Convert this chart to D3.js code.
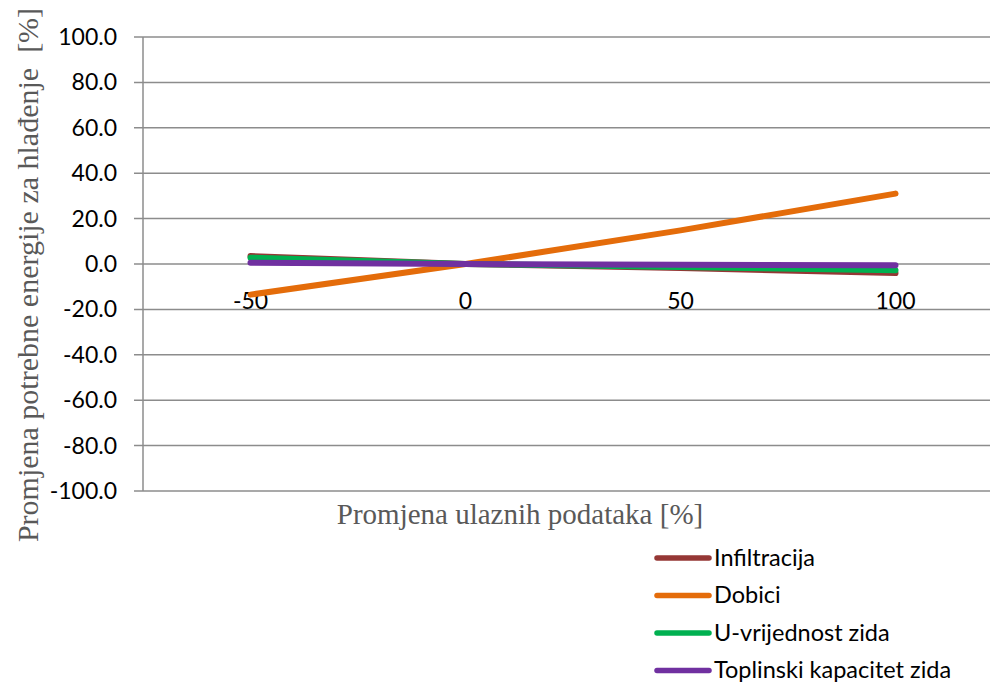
<!DOCTYPE html>
<html>
<head>
<meta charset="utf-8">
<script src="https://cdn.jsdelivr.net/npm/d3@7"></script>
<style>
  body { margin: 0; background: #fff; }
  svg { display: block; }
</style>
</head>
<body>
<svg id="chart" width="990" height="684"></svg>
<script>
// input change categories
var categories = ["-50", "0", "50", "100"];

// change of cooling energy demand per series
var infiltracija = [3.5, 0, -1.8, -4.0];
var dobici = [-13.5, 0, 14.8, 31.0];
var uVrijednost = [2.8, 0, -1.3, -2.7];
var toplinski = [0.6, 0, -0.3, -0.6];

var seriesNames = ["Infiltracija", "Dobici", "U-vrijednost zida", "Toplinski kapacitet zida"];
var seriesColors = ["#953735", "#E46C0A", "#00B050", "#7030A0"];

var yTicks = [-100, -80, -60, -40, -20, 0, 20, 40, 60, 80, 100];

var svg = d3.select("#chart");
var plotLeft = 143, plotRight = 1003, plotTop = 37, plotBottom = 491;

var x = d3.scaleBand().domain(categories).range([plotLeft, plotRight]);
var y = d3.scaleLinear().domain([-100, 100]).range([plotBottom, plotTop]);

var allSeries = [infiltracija, dobici, uVrijednost, toplinski];

var sansFont = "Lato, Carlito, 'Noto Sans', sans-serif";
var serifFont = "'Liberation Serif', 'Times New Roman', serif";

// gridlines
svg.append("g")
  .selectAll("line")
  .data(yTicks)
  .enter().append("line")
    .attr("x1", plotLeft - 9)
    .attr("x2", 990)
    .attr("y1", function(d){ return y(d); })
    .attr("y2", function(d){ return y(d); })
    .attr("stroke", "#8c8c8c")
    .attr("stroke-width", 1.5);

// vertical axis line
svg.append("line")
  .attr("x1", plotLeft).attr("x2", plotLeft)
  .attr("y1", plotTop).attr("y2", plotBottom)
  .attr("stroke", "#8c8c8c")
  .attr("stroke-width", 1.5);

// y tick labels
svg.append("g")
  .selectAll("text")
  .data(yTicks)
  .enter().append("text")
    .attr("x", 117)
    .attr("y", function(d){ return y(d); })
    .attr("dy", "0.35em")
    .attr("text-anchor", "end")
    .style("font-family", sansFont)
    .style("font-size", "23px")
    .attr("fill", "#000")
    .text(function(d){ return d.toFixed(1); });

// x tick labels (sit below the zero line)
svg.append("g")
  .selectAll("text")
  .data(categories)
  .enter().append("text")
    .attr("x", function(d){ return x(d) + x.bandwidth() / 2; })
    .attr("y", y(0) + 37)
    .attr("dy", "0.35em")
    .attr("text-anchor", "middle")
    .style("font-family", sansFont)
    .style("font-size", "23px")
    .attr("fill", "#000")
    .text(function(d){ return d; });

var line = d3.line()
  .x(function(d, i){ return x(categories[i]) + x.bandwidth() / 2; })
  .y(function(d){ return y(d); });

svg.append("g")
  .selectAll("path")
  .data(allSeries)
  .enter().append("path")
    .attr("d", function(d){ return line(d); })
    .attr("fill", "none")
    .attr("stroke", function(d, i){ return seriesColors[i]; })
    .attr("stroke-width", 6)
    .attr("stroke-linecap", "round")
    .attr("stroke-linejoin", "round");

// axis titles
svg.append("text")
  .attr("x", 520)
  .attr("y", 514)
  .attr("dy", "0.35em")
  .attr("text-anchor", "middle")
  .style("font-family", serifFont)
  .style("font-size", "29px")
  .attr("fill", "#595959")
  .text("Promjena ulaznih podataka [%]");

svg.append("text")
  .attr("transform", "translate(27,275) rotate(-90)")
  .attr("dy", "0.35em")
  .attr("text-anchor", "middle")
  .style("font-family", serifFont)
  .style("font-size", "30px")
  .style("white-space", "pre")
  .attr("fill", "#595959")
  .text("Promjena potrebne energije za hlađenje  [%]");

// legend
var legend = svg.append("g")
  .selectAll("g")
  .data(seriesNames)
  .enter().append("g")
    .attr("transform", function(d, i){ return "translate(0," + (558 + i * 37.5) + ")"; });

legend.append("line")
  .attr("x1", 657).attr("x2", 709)
  .attr("y1", 0).attr("y2", 0)
  .attr("stroke", function(d, i){ return seriesColors[i]; })
  .attr("stroke-width", 5.5)
  .attr("stroke-linecap", "round");

legend.append("text")
  .attr("x", 714)
  .attr("y", 0)
  .attr("dy", "0.33em")
  .style("font-family", sansFont)
  .style("font-size", "23.5px")
  .attr("fill", "#000")
  .text(function(d){ return d; });
</script>
</body>
</html>
